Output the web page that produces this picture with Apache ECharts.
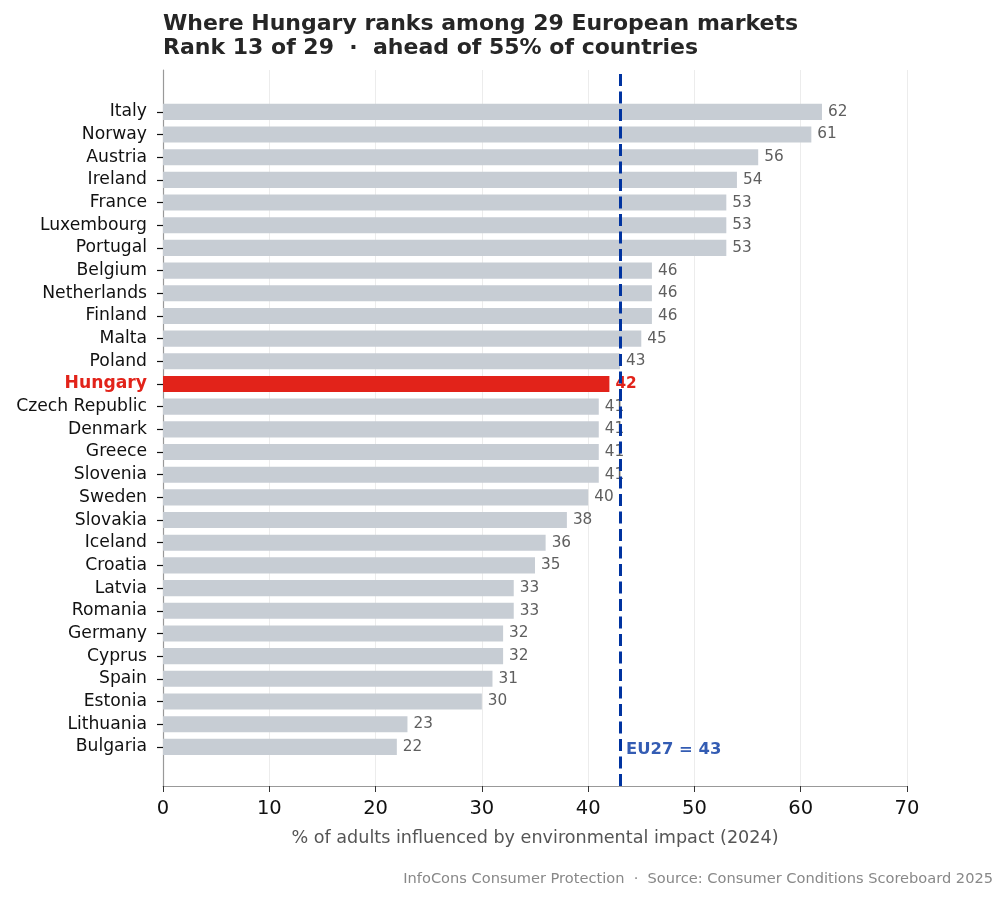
<!DOCTYPE html>
<html>
<head>
    <meta charset="UTF-8">
    <title>Hungary rank</title>
    <style>
        * { margin: 0; padding: 0; }
        html, body { width: 100%; height: 100%; background: #fff; }
        #chart { width: 1008px; height: 902px; }
    </style>
</head>
<body>
    <div id="chart"></div>
    <script src="https://cdn.jsdelivr.net/npm/echarts@6/dist/echarts.min.js"></script>
    <script>
        const countries = ['Italy', 'Norway', 'Austria', 'Ireland', 'France', 'Luxembourg', 'Portugal',
            'Belgium', 'Netherlands', 'Finland', 'Malta', 'Poland', 'Hungary', 'Czech Republic',
            'Denmark', 'Greece', 'Slovenia', 'Sweden', 'Slovakia', 'Iceland', 'Croatia', 'Latvia',
            'Romania', 'Germany', 'Cyprus', 'Spain', 'Estonia', 'Lithuania', 'Bulgaria'];
        const values = [62, 61, 56, 54, 53, 53, 53, 46, 46, 46, 45, 43, 42, 41, 41, 41, 41, 40, 38,
            36, 35, 33, 33, 32, 32, 31, 30, 23, 22];
        const highlight = 'Hungary';
        const eu27 = 43;
        const xTicks = [0, 10, 20, 30, 40, 50, 60, 70];

        const font = '"DejaVu Sans", sans-serif';
        const chart = echarts.init(document.getElementById('chart'));

        const barData = values.map((v, i) => {
            const hit = countries[i] === highlight;
            return {
                value: v,
                itemStyle: { color: hit ? '#e2231a' : '#c7cdd4' },
                label: hit ? { color: '#e2231a', fontWeight: 'bold' } : {}
            };
        });

        chart.setOption({
            animation: false,
            backgroundColor: '#fff',
            textStyle: { fontFamily: font },
            title: [{
                text: 'Where Hungary ranks among 29 European markets\nRank 13 of 29  ·  ahead of 55% of countries',
                left: 163,
                top: 13,
                padding: 0,
                textStyle: { fontFamily: font, fontSize: 22, fontWeight: 'bold', color: '#262626', lineHeight: 23.5 }
            }, {
                text: 'InfoCons Consumer Protection  ·  Source: Consumer Conditions Scoreboard 2025',
                right: 15,
                top: 872,
                padding: 0,
                textStyle: { fontFamily: font, fontSize: 14.6, fontWeight: 'normal', color: '#888' }
            }],
            grid: [
                { left: 163, right: 101, top: 70, bottom: 116 },
                { left: 163, right: 101, top: 100.5, bottom: 143.8 }
            ],
            xAxis: [{
                gridIndex: 0,
                type: 'value',
                min: 0,
                max: 70,
                interval: 10,
                name: '% of adults influenced by environmental impact (2024)',
                nameLocation: 'middle',
                nameGap: 43,
                nameTextStyle: { fontFamily: font, fontSize: 17.6, color: '#555' },
                axisLine: { show: true, lineStyle: { color: '#999', width: 1.2 } },
                axisTick: { show: true, length: 6, lineStyle: { color: '#333' } },
                axisLabel: { fontFamily: font, fontSize: 19.5, color: '#111', margin: 13,
                    formatter: v => xTicks.includes(v) ? String(v) : '' },
                splitLine: { show: true, lineStyle: { color: '#ececec', width: 1 } }
            }, {
                gridIndex: 1,
                type: 'value',
                min: 0,
                max: 70,
                show: false
            }],
            yAxis: [{
                gridIndex: 0,
                type: 'value',
                min: 0,
                max: 1,
                axisLine: { show: true, onZero: false, lineStyle: { color: '#999', width: 1.2 } },
                axisTick: { show: false },
                axisLabel: { show: false },
                splitLine: { show: false }
            }, {
                gridIndex: 1,
                type: 'category',
                inverse: true,
                data: countries,
                axisLine: { show: false },
                axisTick: { show: true, length: 6, alignWithLabel: true, lineStyle: { color: '#111', width: 1.2 } },
                axisLabel: {
                    fontFamily: font,
                    fontSize: 17.2,
                    color: '#111',
                    margin: 16,
                    formatter: v => v === highlight ? '{hl|' + v + '}' : v,
                    rich: { hl: { fontFamily: font, fontSize: 17.2, color: '#e2231a', fontWeight: 'bold' } }
                }
            }],
            series: [{
                type: 'bar',
                xAxisIndex: 1,
                yAxisIndex: 1,
                data: barData,
                barWidth: '71%',
                label: {
                    show: true,
                    position: 'right',
                    distance: 6,
                    fontFamily: font,
                    fontSize: 15.3,
                    color: '#5f5f5f'
                },
                z: 2
            }, {
                type: 'scatter',
                xAxisIndex: 0,
                yAxisIndex: 0,
                symbolSize: 0,
                data: [[eu27, 0.05]],
                label: {
                    show: true,
                    position: 'right',
                    distance: 6,
                    formatter: 'EU27 = ' + eu27,
                    fontFamily: font,
                    fontSize: 16.4,
                    fontWeight: 'bold',
                    color: '#0033a0'
                },
                markLine: {
                    silent: true,
                    symbol: 'none',
                    label: { show: false },
                    lineStyle: { color: '#0033a0', type: [12, 5.5], width: 3, opacity: 1 },
                    data: [{ xAxis: eu27 }]
                },
                z: 5
            }]
        });
    </script>
</body>
</html>
